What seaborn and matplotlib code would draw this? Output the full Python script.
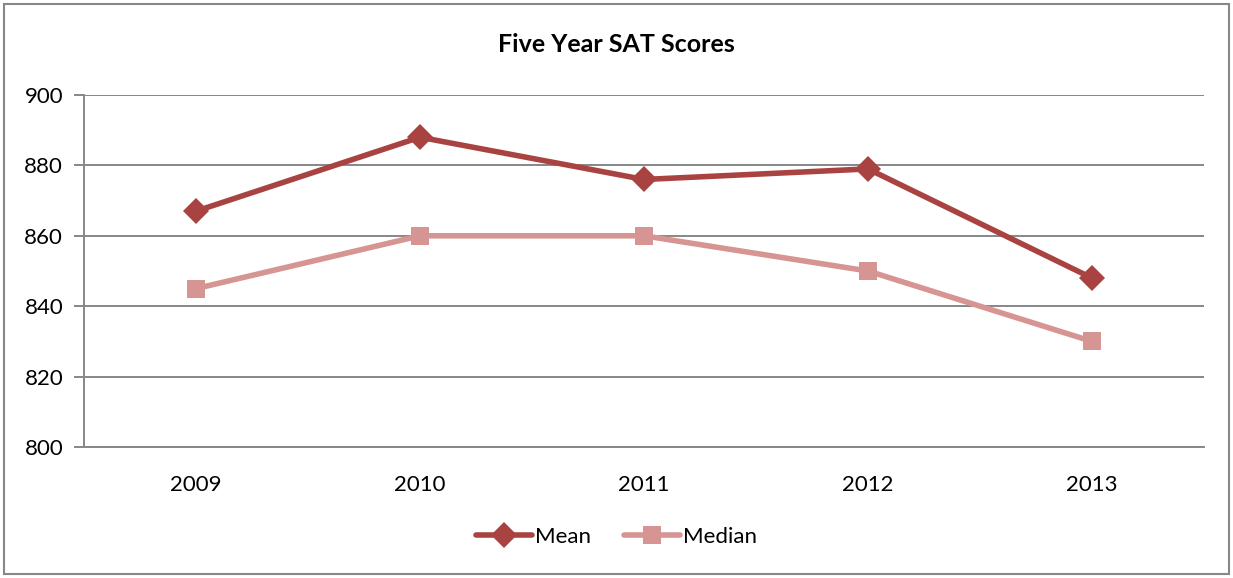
import matplotlib
matplotlib.use("Agg")
import matplotlib.pyplot as plt
import seaborn as sns
import pandas as pd
from matplotlib.patches import Rectangle
from matplotlib.ticker import FixedLocator

years = ["2009", "2010", "2011", "2012", "2013"]
mean_scores = [867, 888, 876, 879, 848]
median_scores = [845, 860, 860, 850, 830]
series_names = ["Mean", "Median"]
y_ticks = [800, 820, 840, 860, 880, 900]

sns.set_theme(style="white")
plt.rcParams["font.family"] = ["Lato", "DejaVu Sans"]
plt.rcParams["text.color"] = "black"
plt.rcParams["xtick.color"] = "black"
plt.rcParams["ytick.color"] = "black"

df = pd.DataFrame({
    "Year": years * 2,
    "Score": mean_scores + median_scores,
    "Series": [series_names[0]] * len(years) + [series_names[1]] * len(years),
})

fig = plt.figure(figsize=(12.33, 5.78), dpi=100)
ax = fig.add_axes([84 / 1233, 1 - 447 / 578, (1204 - 84) / 1233, (447 - 95) / 578])

palette = {"Mean": "#A94341", "Median": "#D69492"}
sns.lineplot(data=df, x="Year", y="Score", hue="Series", style="Series",
             markers={"Mean": "D", "Median": "s"}, dashes=False,
             palette=palette, linewidth=4, markersize=13, markeredgewidth=0,
             sort=False, ax=ax)

ax.set_xlim(-0.5, len(years) - 0.5)
ax.set_ylim(y_ticks[0], y_ticks[-1])
ax.set_yticks(y_ticks)
ax.yaxis.grid(True, color="#878787", linewidth=1.4)
ax.set_axisbelow(True)
ax.set_xlabel("")
ax.set_ylabel("")

for side in ["top", "right"]:
    ax.spines[side].set_visible(False)
for side in ["left", "bottom"]:
    ax.spines[side].set_color("#878787")
    ax.spines[side].set_linewidth(1.4)

ax.tick_params(axis="x", which="major", length=0, labelsize=16, pad=20, labelcolor="black")
ax.xaxis.set_minor_locator(FixedLocator([i - 0.5 for i in range(len(years) + 1)]))
ax.tick_params(axis="x", which="minor", length=7, width=1.4, color="#878787", direction="out")
ax.tick_params(axis="y", length=7, width=1.4, color="#878787", labelsize=16, pad=8,
               left=True, direction="out", labelcolor="black")

fig.suptitle("Five Year SAT Scores", x=0.5, y=1 - 44 / 578, va="center",
             fontsize=18, fontweight="bold", color="black")

handles, labels = ax.get_legend_handles_labels()
ax.get_legend().remove()
fig.legend(handles, labels, loc="center", bbox_to_anchor=(0.5, 1 - 537 / 578),
           ncol=2, frameon=False, fontsize=16, handlelength=2.5, columnspacing=1.5,
           handletextpad=0.15)

fig.patches.append(Rectangle((4 / 1233, 4 / 578), 1225 / 1233, 570 / 578,
                             transform=fig.transFigure, fill=False,
                             edgecolor="#878787", linewidth=1.5))

fig.savefig("out.png", dpi=100)
